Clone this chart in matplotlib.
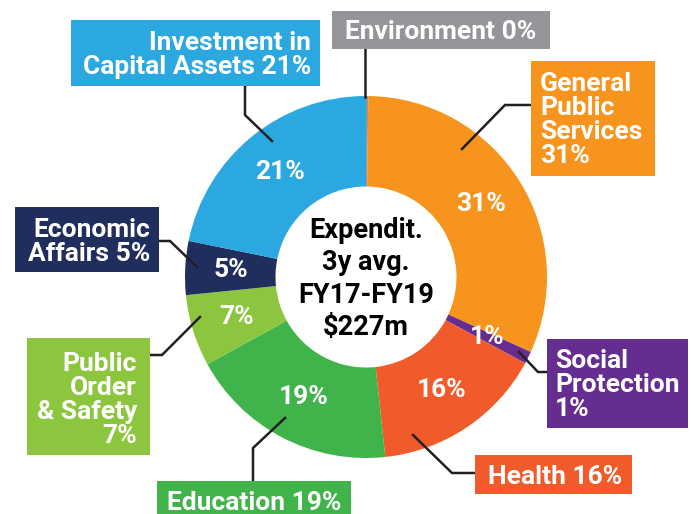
import matplotlib

matplotlib.use("Agg")

import matplotlib.pyplot as plt
from matplotlib.patches import Rectangle
import numpy as np

# ---- data (clockwise from 12 o'clock) ----
categories = [
    "Environment",
    "General Public Services",
    "Social Protection",
    "Health",
    "Education",
    "Public Order & Safety",
    "Economic Affairs",
    "Investment in Capital Assets",
]
shares = [0.2, 31.6, 1.1, 15.4, 18.7, 6.4, 4.8, 21.8]
pct_labels = ["0%", "31%", "1%", "16%", "19%", "7%", "5%", "21%"]
box_texts = [
    "Environment 0%",
    "General\nPublic\nServices\n31%",
    "Social\nProtection\n1%",
    "Health 16%",
    "Education 19%",
    "Public\nOrder\n& Safety\n7%",
    "Economic\nAffairs 5%",
    "Investment in\nCapital Assets 21%",
]
center_text = "Expendit.\n3y avg.\nFY17-FY19\n$227m"

colors = ["#939598", "#F7941E", "#662D91", "#F15A2B",
          "#40B44A", "#8CC63F", "#202E5E", "#2CA8E0"]

# ---- layout in pixel coords (y grows downwards) ----
CX, CY, R = 366, 277, 181
HOLE = 0.5
# box (x0, y0, x1, y1), text anchor (x, y), ha, leader polyline
callouts = [
    ((332, 11, 550, 49), (441, 32), "center", [(365, 49), (365, 97)]),
    ((531, 61, 655, 176), (540, 120), "left", [(531, 105), (505, 105), (462, 149)]),
    ((547, 339, 688, 428), (555, 385), "left", [(547, 372), (538, 372), (519, 352)]),
    ((475, 455, 632, 494), (555, 477), "center", [(475, 473), (452, 473), (413, 435)]),
    ((157, 481, 351, 516), (254, 503), "center", [(253, 481), (253, 448), (285, 418)]),
    ((27, 338, 150, 455), (137, 400), "right", [(150, 355), (162, 355), (200, 317)]),
    ((15, 207, 159, 272), (150, 242), "right", [(159, 241), (170, 241), (197, 267)]),
    ((71, 20, 320, 86), (311, 55), "right", [(245, 86), (245, 115), (272, 141)]),
]

FONT = dict(family=["Roboto", "DejaVu Sans"], fontweight="bold")


def main() -> None:
    fig = plt.figure(figsize=(6.91, 5.14), dpi=100)
    ax = fig.add_axes([0, 0, 1, 1])

    # y axis is inverted below, so counterclock in data = clockwise on screen
    wedges, _ = ax.pie(
        shares,
        colors=colors,
        center=(CX, CY),
        radius=R,
        startangle=-90,
        counterclock=True,
        wedgeprops=dict(width=R * HOLE, linewidth=0),
    )

    for w, lab in zip(wedges, pct_labels):
        if lab == "0%":
            continue
        mid = np.deg2rad((w.theta1 + w.theta2) / 2)
        r = R * 0.75
        ax.text(CX + r * np.cos(mid), CY + r * np.sin(mid), lab,
                ha="center", va="center", color="white",
                fontsize=19, **FONT)

    ax.text(CX, CY + 2, center_text, ha="center", va="center",
            fontsize=19.5, linespacing=1.25, color="black", **FONT)

    for (box, anchor, ha, leader), txt, col in zip(callouts, box_texts, colors):
        x0, y0, x1, y1 = box
        ax.add_patch(Rectangle((x0, y0), x1 - x0, y1 - y0,
                               facecolor=col, edgecolor="none", zorder=3))
        ax.text(anchor[0], anchor[1], txt, ha=ha, va="center",
                multialignment=ha, color="white", fontsize=19,
                linespacing=0.99, zorder=4, **FONT)
        xs, ys = zip(*leader)
        ax.plot(xs, ys, color="#231F20", lw=1.8, zorder=2,
                solid_joinstyle="miter")

    ax.set_xlim(0, 691)
    ax.set_ylim(514, 0)
    ax.set_aspect("equal")
    ax.axis("off")

    fig.savefig("out.png", dpi=100, facecolor="white")


if __name__ == "__main__":
    main()
